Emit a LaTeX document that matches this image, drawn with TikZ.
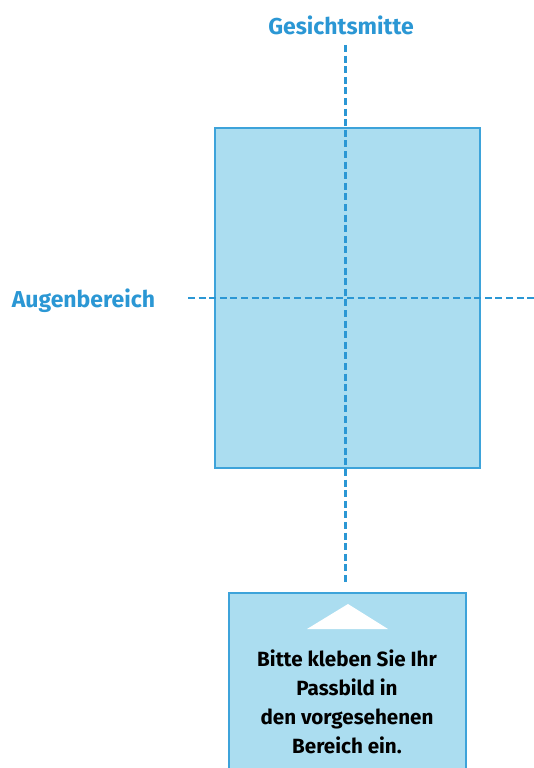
\documentclass[tikz,border=0pt]{standalone}
\usepackage{fontspec}
\setmainfont{Fira Sans}
\definecolor{lblue}{HTML}{ABDDF0}
\definecolor{bblue}{HTML}{3DA3DA}
\definecolor{tblue}{HTML}{2B97D4}
\begin{document}
\begin{tikzpicture}[x=1pt,y=-1pt,
  guide/.style={draw=tblue,line width=2.9pt,dash pattern=on 7pt off 3.6pt},
  panel/.style={draw=bblue,line width=1.2pt,fill=lblue},
  lbl/.style={text=tblue,font=\bfseries\fontsize{23}{27}\selectfont,inner sep=0pt},
  msg/.style={text=black,font=\bfseries\fontsize{20.6}{29}\selectfont,align=center,inner sep=0pt}]
\useasboundingbox (0,0) rectangle (534,768);
\fill[panel] (215,128) rectangle (480,468);
\fill[panel] (229,593) rectangle (466,775);
\coordinate (vt) at (345.5,45);
\coordinate (vb) at (345.5,584);
\coordinate (hl) at (188,298);
\coordinate (hr) at (534,298);
\draw[guide] (vt) -- (vb);
\draw[guide] (hl) -- (hr);
\node[lbl] (gm) at (341,25) {Gesichtsmitte};
\node[lbl] (ab) at (83.5,301) {Augenbereich};
\fill[white] (348,604) -- (388,629) -- (307,629) -- cycle;
\node[msg] (txt) at (347,702) {Bitte kleben Sie Ihr\\Passbild in\\den vorgesehenen\\Bereich ein.};
\end{tikzpicture}
\end{document}
